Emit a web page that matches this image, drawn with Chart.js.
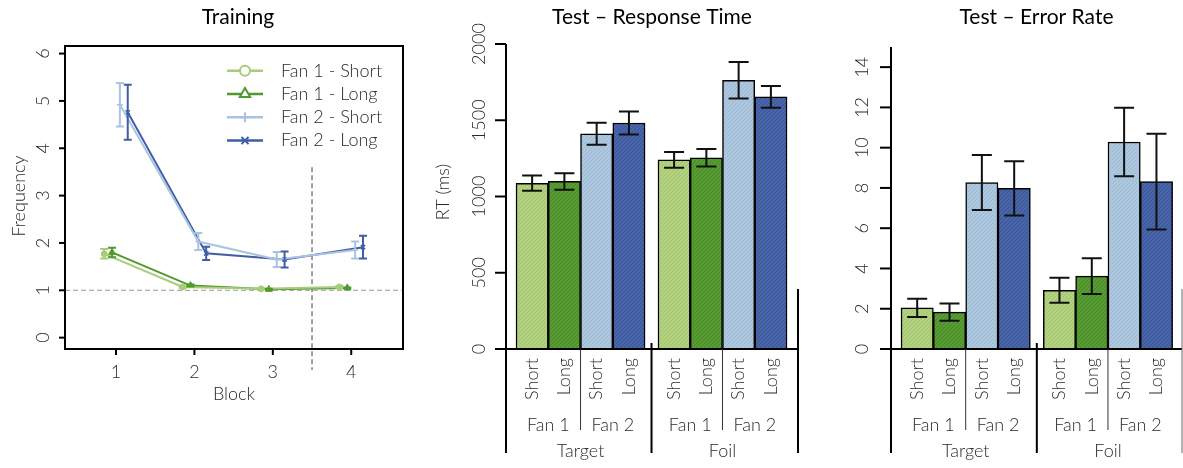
<!DOCTYPE html>
<html>
<head>
<meta charset="utf-8">
<script src="https://cdn.jsdelivr.net/npm/chart.js@4.4.1/dist/chart.umd.min.js"></script>
<style>
  html, body { margin: 0; padding: 0; background: #fff; }
  body { width: 1183px; height: 468px; position: relative; overflow: hidden; }
  canvas { position: absolute; top: 0; }
</style>
</head>
<body>
<canvas id="trainingChart" width="420" height="468" style="left:0"></canvas>
<canvas id="rtChart" width="380" height="468" style="left:420px"></canvas>
<canvas id="errChart" width="383" height="468" style="left:800px"></canvas>
<script>
// ---- Training data (mean frequency per block, +/- error) ----
const blocks = [1, 2, 3, 4];
const seriesNames = ['Fan 1 - Short', 'Fan 1 - Long', 'Fan 2 - Short', 'Fan 2 - Long'];
const fan1Short = [1.77, 1.07, 1.03, 1.07];
const fan1ShortErr = [0.10, 0.02, 0.01, 0.02];
const fan1Long = [1.80, 1.10, 1.02, 1.05];
const fan1LongErr = [0.10, 0.02, 0.01, 0.01];
const fan2Short = [4.92, 2.03, 1.65, 1.85];
const fan2ShortErr = [0.46, 0.18, 0.16, 0.18];
const fan2Long = [4.76, 1.78, 1.65, 1.91];
const fan2LongErr = [0.58, 0.14, 0.17, 0.24];
const freqTicks = [0, 1, 2, 3, 4, 5, 6];

// ---- Test data ----
const lengthLabels = ['Short', 'Long', 'Short', 'Long', 'Short', 'Long', 'Short', 'Long'];
const fanLabels = ['Fan 1', 'Fan 2', 'Fan 1', 'Fan 2'];
const probeLabels = ['Target', 'Foil'];
const rtTarget = [1087, 1099, 1411, 1482];
const rtTargetErr = [50, 54, 72, 75];
const rtFoil = [1240, 1254, 1762, 1653];
const rtFoilErr = [52, 58, 120, 71];
const rtTicks = [0, 500, 1000, 1500, 2000];
const errTarget = [2.04, 1.83, 8.27, 7.98];
const errTargetErr = [0.45, 0.43, 1.37, 1.35];
const errFoil = [2.92, 3.62, 10.28, 8.31];
const errFoilErr = [0.62, 0.89, 1.70, 2.38];
const errTicks = [0, 2, 4, 6, 8, 10, 12, 14];

// layout
const barPos = [0, 1, 2, 3, 4.4, 5.4, 6.4, 7.4];
const FONT = 'Lato';
const TEXT = '#2a2a2a';
const LABEL_FONT = '300 18px ' + FONT;
const TITLE_FONT = '21px ' + FONT;

function hatch(base, line) {
  const c = document.createElement('canvas');
  c.width = 4; c.height = 4;
  const g = c.getContext('2d');
  g.fillStyle = base; g.fillRect(0, 0, 4, 4);
  g.strokeStyle = line; g.lineWidth = 1;
  g.beginPath();
  g.moveTo(0, 4); g.lineTo(4, 0);
  g.moveTo(-1, 1); g.lineTo(1, -1);
  g.moveTo(3, 5); g.lineTo(5, 3);
  g.stroke();
  return g.createPattern(c, 'repeat');
}

const barColors = [
  hatch('#b3d27f', 'rgba(120,160,70,0.28)'),
  hatch('#579c33', 'rgba(40,90,20,0.28)'),
  hatch('#adc7df', 'rgba(120,150,180,0.28)'),
  hatch('#4865aa', 'rgba(30,50,110,0.32)')
];

function text(ctx, str, x, y, opts) {
  opts = opts || {};
  ctx.save();
  ctx.font = opts.font || LABEL_FONT;
  ctx.fillStyle = opts.color || TEXT;
  ctx.textAlign = opts.align || 'center';
  ctx.textBaseline = opts.baseline || 'middle';
  ctx.translate(x, y);
  if (opts.rotate) ctx.rotate(-Math.PI / 2);
  ctx.fillText(str, 0, 0);
  ctx.restore();
}

function line(ctx, x1, y1, x2, y2, width, color, dash) {
  ctx.save();
  ctx.strokeStyle = color || '#000';
  ctx.lineWidth = width || 1;
  ctx.setLineDash(dash || []);
  ctx.beginPath();
  ctx.moveTo(x1, y1);
  ctx.lineTo(x2, y2);
  ctx.stroke();
  ctx.restore();
}

// ================= Training =================
const trainColors = ['#a8cc79', '#4f9a2c', '#a9c4df', '#3f5ea6'];
const trainStyles = ['circle', 'triangle', 'cross', 'crossRot'];
const trainValues = [fan1Short, fan1Long, fan2Short, fan2Long];
const trainErrs = [fan1ShortErr, fan1LongErr, fan2ShortErr, fan2LongErr];
const dodge = [-0.15, -0.05, 0.05, 0.15];

const trainingPlugin = {
  id: 'trainingDecor',
  beforeDatasetsDraw(chart) {
    const ctx = chart.ctx, a = chart.chartArea;
    const xs = chart.scales.x, ys = chart.scales.y;
    const y1 = ys.getPixelForValue(1);
    line(ctx, a.left, y1, a.right, y1, 1, '#999', [5, 3]);
    const xv = xs.getPixelForValue(3.5);
    line(ctx, xv, ys.getPixelForValue(3.6), xv, a.bottom + 21, 1, '#444', [5, 3]);
  },
  afterDatasetsDraw(chart) {
    const ctx = chart.ctx, a = chart.chartArea;
    const xs = chart.scales.x, ys = chart.scales.y;
    // error bars
    chart.data.datasets.forEach((ds, di) => {
      const meta = chart.getDatasetMeta(di);
      ctx.save();
      ctx.strokeStyle = trainColors[di];
      ctx.lineWidth = 2;
      meta.data.forEach((pt, i) => {
        const e = trainErrs[di][i];
        const hi = ys.getPixelForValue(trainValues[di][i] + e);
        const lo = ys.getPixelForValue(trainValues[di][i] - e);
        ctx.beginPath();
        ctx.moveTo(pt.x, hi); ctx.lineTo(pt.x, lo);
        ctx.moveTo(pt.x - 4, hi); ctx.lineTo(pt.x + 4, hi);
        ctx.moveTo(pt.x - 4, lo); ctx.lineTo(pt.x + 4, lo);
        ctx.stroke();
      });
      ctx.restore();
    });
    // box
    ctx.save();
    ctx.strokeStyle = '#000'; ctx.lineWidth = 2;
    ctx.strokeRect(a.left, a.top, a.right - a.left, a.bottom - a.top);
    ctx.restore();
    // y ticks
    freqTicks.forEach(v => {
      const y = ys.getPixelForValue(v);
      line(ctx, a.left - 6, y, a.left, y, 2, '#000');
      text(ctx, String(v), a.left - 21.5, y, { rotate: true });
    });
    // x ticks
    blocks.forEach(b => {
      const x = xs.getPixelForValue(b);
      line(ctx, x, a.bottom, x, a.bottom + 6, 2, '#000');
      text(ctx, String(b), x, a.bottom + 23);
    });
    text(ctx, 'Block', 234, 394);
    text(ctx, 'Frequency', 19, 196, { rotate: true });
    text(ctx, 'Training', 238, 17, { font: TITLE_FONT, color: '#000' });
    // legend
    seriesNames.forEach((name, i) => {
      const y = 70.7 + i * 23.3;
      line(ctx, 227, y, 263, y, 2.5, trainColors[i]);
      ctx.save();
      ctx.strokeStyle = trainColors[i];
      ctx.fillStyle = '#fff';
      ctx.lineWidth = 2;
      Chart.helpers.drawPoint(ctx, { pointStyle: trainStyles[i], rotation: 0, radius: i === 1 ? 6 : 5, borderWidth: 2 }, 245, y);
      ctx.restore();
      text(ctx, name, 281, y, { align: 'left' });
    });
  }
};

new Chart(document.getElementById('trainingChart'), {
  type: 'line',
  data: {
    datasets: seriesNames.map((name, di) => ({
      label: name,
      data: blocks.map((b, i) => ({ x: b + dodge[di], y: trainValues[di][i] })),
      borderColor: trainColors[di],
      backgroundColor: trainColors[di],
      borderWidth: 2,
      pointStyle: trainStyles[di],
      pointRadius: di === 1 ? 4 : 3,
      pointBorderWidth: di >= 2 ? 1.5 : 1,
      tension: 0
    }))
  },
  options: {
    responsive: false,
    animation: false,
    layout: { padding: { left: 65, top: 46, right: 17, bottom: 119 } },
    plugins: { legend: { display: false }, tooltip: { enabled: false } },
    scales: {
      x: { type: 'linear', display: false, min: 0.35, max: 4.66 },
      y: { display: false, min: -0.24, max: 6.16 }
    }
  },
  plugins: [trainingPlugin]
});

// ================= Test bar charts =================
function barDecor(id, values, errs, ticks, opts) {
  return {
    id: id,
    afterDatasetsDraw(chart) {
      const ctx = chart.ctx, a = chart.chartArea;
      const xs = chart.scales.x, ys = chart.scales.y;
      const meta = chart.getDatasetMeta(0);
      // error bars
      ctx.save();
      ctx.strokeStyle = '#111'; ctx.lineWidth = 2;
      meta.data.forEach((bar, i) => {
        const hi = ys.getPixelForValue(values[i] + errs[i]);
        const lo = ys.getPixelForValue(values[i] - errs[i]);
        ctx.beginPath();
        ctx.moveTo(bar.x, hi); ctx.lineTo(bar.x, lo);
        ctx.moveTo(bar.x - 10, hi); ctx.lineTo(bar.x + 10, hi);
        ctx.moveTo(bar.x - 10, lo); ctx.lineTo(bar.x + 10, lo);
        ctx.stroke();
      });
      ctx.restore();
      // axes
      line(ctx, a.left, a.top, a.left, a.bottom + 104, 2, '#000');
      line(ctx, a.left - 11, a.bottom, a.right, a.bottom, 2, '#000');
      ticks.forEach(v => {
        const y = ys.getPixelForValue(v);
        line(ctx, a.left - 11, y, a.left, y, 2, '#000');
        text(ctx, String(v), a.left + opts.tickOffset, y, { rotate: true });
      });
      // group separators
      const sep = xs.getPixelForValue(3.7);
      line(ctx, sep, a.bottom - 6, sep, a.bottom + 104, 2, '#000');
      line(ctx, a.right, a.bottom - 60, a.right, a.bottom + 104, opts.rightWidth, opts.rightColor);
      [1.5, 5.9].forEach(p => {
        const x = xs.getPixelForValue(p);
        line(ctx, x, a.bottom, x, a.bottom + 81, 1, '#333');
      });
      // category labels
      meta.data.forEach((bar, i) => {
        text(ctx, lengthLabels[i], bar.x, a.bottom + 9, { rotate: true, align: 'right' });
      });
      fanLabels.forEach((f, k) => {
        const x = (meta.data[2 * k].x + meta.data[2 * k + 1].x) / 2;
        text(ctx, f, x, a.bottom + 82, { baseline: 'alphabetic' });
      });
      probeLabels.forEach((p, k) => {
        const x = (meta.data[4 * k + 1].x + meta.data[4 * k + 2].x) / 2;
        text(ctx, p, x, a.bottom + 108, { baseline: 'alphabetic' });
      });
      if (opts.yTitle) text(ctx, opts.yTitle, a.left - 63, 192, { rotate: true });
      text(ctx, opts.title, (a.left + a.right) / 2, 17, { font: TITLE_FONT, color: '#000' });
    }
  };
}

function makeBarChart(canvasId, target, foil, targetErr, foilErr, ticks, yMax, padding, xMax, opts) {
  const values = target.concat(foil);
  const errs = targetErr.concat(foilErr);
  new Chart(document.getElementById(canvasId), {
    type: 'bar',
    data: {
      datasets: [{
        data: values.map((v, i) => ({ x: barPos[i], y: v })),
        backgroundColor: values.map((v, i) => barColors[i % 4]),
        borderColor: '#000',
        borderWidth: 1.5,
        borderSkipped: 'bottom',
        barPercentage: 1,
        categoryPercentage: 1
      }]
    },
    options: {
      responsive: false,
      animation: false,
      layout: { padding: padding },
      plugins: { legend: { display: false }, tooltip: { enabled: false } },
      scales: {
        x: { type: 'linear', display: false, offset: false, min: -0.81, max: xMax },
        y: { display: false, min: 0, max: yMax }
      }
    },
    plugins: [barDecor(canvasId + 'Decor', values, errs, ticks, opts)]
  });
}

makeBarChart('rtChart', rtTarget, rtFoil, rtTargetErr, rtFoilErr, rtTicks, 2000,
  { left: 86, top: 44, right: 2, bottom: 119 }, 8.24,
  { title: 'Test \u2013 Response Time', yTitle: 'RT (ms)', tickOffset: -27, rightWidth: 2, rightColor: '#000' });

makeBarChart('errChart', errTarget, errFoil, errTargetErr, errFoilErr, errTicks, 15,
  { left: 91, top: 47, right: 1, bottom: 119 }, 8.19,
  { title: 'Test \u2013 Error Rate', yTitle: '', tickOffset: -29, rightWidth: 1, rightColor: '#666' });
</script>
</body>
</html>
